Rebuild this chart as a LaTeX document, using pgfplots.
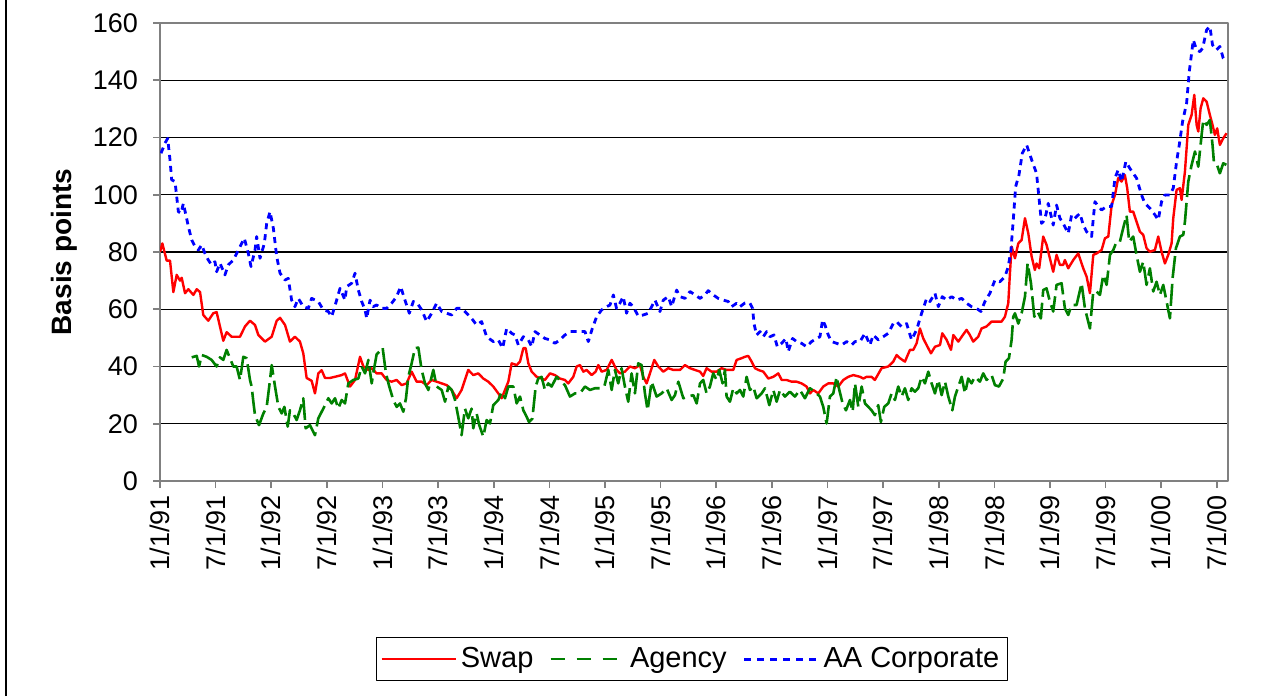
\documentclass[border=0pt]{standalone}
\usepackage{fontspec}
\setmainfont{Liberation Sans}
\usepackage{pgfplots}
\pgfplotsset{compat=1.18}
\definecolor{swapred}{RGB}{255,0,0}
\definecolor{agreen}{RGB}{0,128,0}
\definecolor{aablue}{RGB}{0,0,255}
\definecolor{framegray}{RGB}{128,128,128}
\begin{document}
\begin{tikzpicture}
\path[use as bounding box] (0,0) rectangle (641.5pt,348pt);
\fill[white] (0,0) rectangle (641.5pt,348pt);
\draw[black, line width=1pt] (3pt,0) -- (3pt,348pt);
\begin{axis}[
  at={(80pt,107.5pt)}, anchor=south west,
  scale only axis, width=534pt, height=229pt,
  xmin=1991, xmax=2000.6, ymin=0, ymax=160,
  ytick={0,20,40,60,80,100,120,140,160},
  xtick={1991,1991.5,1992,1992.5,1993,1993.5,1994,1994.5,1995,1995.5,1996,1996.5,1997,1997.5,1998,1998.5,1999,1999.5,2000,2000.5},
  xticklabels={1/1/91,7/1/91,1/1/92,7/1/92,1/1/93,7/1/93,1/1/94,7/1/94,1/1/95,7/1/95,1/1/96,7/1/96,1/1/97,7/1/97,1/1/98,7/1/98,1/1/99,7/1/99,1/1/00,7/1/00},
  tick align=outside, major tick length=3.5pt, tick pos=left,
  ymajorgrids, grid style={black, line width=0.6pt},
  axis line style={framegray, line width=1pt},
  every tick/.style={framegray, line width=0.8pt},
  font=\fontsize{13.5}{16}\selectfont,
  /pgf/number format/assume math mode=true,
  xticklabel style={rotate=90, anchor=east},
  yticklabel style={xshift=-4pt},
  ylabel={\bfseries Basis points},
  ylabel style={at={(axis description cs:-0.0706,0.5)}, anchor=south, font=\fontsize{14}{16}\selectfont},
  legend style={at={(axis description cs:0.498,-0.389)}, anchor=center, draw=black, line width=0.6pt,
    legend columns=-1, font=\fontsize{14.5}{17}\selectfont, inner xsep=2pt, inner ysep=3pt,
    /tikz/every even column/.append style={column sep=6pt}},
  legend image code/.code={\draw[#1] (0pt,0pt) -- (37pt,0pt);},
  line join=round,
]
\addplot[swapred, line width=1.2pt] coordinates {
(1991.000,80) (1991.021,83) (1991.060,77) (1991.090,77) (1991.120,66) (1991.150,72) (1991.180,70) (1991.195,71) (1991.225,65.6) (1991.255,67) (1991.300,65) (1991.330,67) (1991.360,66) (1991.389,58) (1991.434,56) (1991.479,58.6) (1991.509,59) (1991.539,54) (1991.569,49) (1991.599,52) (1991.644,50.4) (1991.719,50.4) (1991.764,54) (1991.809,56) (1991.854,54.5) (1991.884,51) (1991.944,48.7) (1992.004,50.4) (1992.049,56) (1992.079,57) (1992.124,54.5) (1992.168,48.7) (1992.213,50.4) (1992.258,48.7) (1992.288,44.6) (1992.318,36) (1992.363,35) (1992.393,30.6) (1992.423,37.6) (1992.453,38.7) (1992.483,36) (1992.528,36) (1992.573,36.4) (1992.633,37) (1992.663,37.6) (1992.708,33) (1992.753,35.3) (1992.798,43.4) (1992.828,40) (1992.873,38.8) (1992.903,39.4) (1992.947,37.6) (1992.992,37.6) (1993.037,35.3) (1993.082,34.7) (1993.127,35.3) (1993.172,33.5) (1993.217,34.1) (1993.262,38.2) (1993.307,34.7) (1993.352,34.7) (1993.397,33.5) (1993.442,35.3) (1993.487,34.7) (1993.532,34.1) (1993.577,33.5) (1993.622,31.8) (1993.666,28.9) (1993.711,31.8) (1993.771,38.8) (1993.816,37) (1993.861,37.6) (1993.906,35.8) (1993.951,34.7) (1993.996,33) (1994.041,30.6) (1994.071,28.9) (1994.101,31.8) (1994.131,34.7) (1994.161,41.1) (1994.206,40.5) (1994.236,41.7) (1994.266,46.4) (1994.287,46.4) (1994.311,41.1) (1994.341,38.2) (1994.386,36.4) (1994.430,35.8) (1994.460,35.3) (1994.505,37.6) (1994.550,37) (1994.595,35.8) (1994.640,35.3) (1994.670,34.1) (1994.715,36.4) (1994.745,40) (1994.775,40.5) (1994.805,38.2) (1994.835,38.8) (1994.880,37) (1994.916,38.2) (1994.940,40.5) (1994.970,38.2) (1995.015,38.8) (1995.060,42.3) (1995.104,38.8) (1995.134,37.6) (1995.179,38.2) (1995.224,40) (1995.269,39.4) (1995.314,40.5) (1995.344,36.4) (1995.374,34.1) (1995.404,37.6) (1995.443,42.3) (1995.479,40) (1995.524,38.2) (1995.569,39.4) (1995.614,38.8) (1995.674,38.8) (1995.719,40.5) (1995.764,39.4) (1995.809,38.8) (1995.854,38.2) (1995.883,36.7) (1995.913,39.4) (1995.958,38.2) (1996.003,38.2) (1996.048,39.4) (1996.093,38.8) (1996.153,38.8) (1996.183,42.3) (1996.228,42.9) (1996.258,43.4) (1996.288,43.7) (1996.318,41.7) (1996.348,39.4) (1996.378,38.8) (1996.423,38.2) (1996.468,35.8) (1996.513,36.4) (1996.558,37.6) (1996.588,35.3) (1996.632,35.3) (1996.677,34.7) (1996.722,34.7) (1996.767,34.1) (1996.812,33) (1996.842,30.6) (1996.872,31.8) (1996.917,30.6) (1996.962,33) (1997.007,34.1) (1997.052,34.1) (1997.097,33) (1997.142,35.3) (1997.187,36.4) (1997.232,37) (1997.292,36.4) (1997.322,35.8) (1997.352,36.4) (1997.396,36.4) (1997.426,35.3) (1997.486,39.4) (1997.546,40) (1997.591,41.7) (1997.621,44) (1997.651,42.9) (1997.696,41.7) (1997.741,45.8) (1997.771,45.8) (1997.801,48.1) (1997.831,53.3) (1997.861,49.8) (1997.891,47.5) (1997.930,44.6) (1997.966,46.9) (1998.011,47.5) (1998.032,51.6) (1998.071,49.3) (1998.110,45.8) (1998.131,51) (1998.176,48.7) (1998.206,50.4) (1998.250,52.8) (1998.280,51) (1998.310,48.7) (1998.355,50.4) (1998.385,53.3) (1998.430,54) (1998.475,55.7) (1998.520,55.7) (1998.565,55.7) (1998.595,57.4) (1998.625,62.1) (1998.640,72.6) (1998.655,81.9) (1998.685,77.8) (1998.715,83) (1998.745,84.2) (1998.775,91.8) (1998.805,86.5) (1998.835,78.4) (1998.864,73.7) (1998.879,76) (1998.903,74.3) (1998.939,85.4) (1998.969,82.5) (1998.999,77.8) (1999.029,73.1) (1999.059,79) (1999.089,75.5) (1999.119,75.5) (1999.134,77.2) (1999.164,74.3) (1999.209,77.2) (1999.254,79.5) (1999.299,74.3) (1999.329,71.4) (1999.359,65.6) (1999.389,79) (1999.419,79.5) (1999.464,80.7) (1999.494,84.8) (1999.524,85.4) (1999.554,96.4) (1999.584,99.9) (1999.613,105.8) (1999.643,104.6) (1999.673,106.9) (1999.694,102.3) (1999.718,94.1) (1999.748,94.1) (1999.778,90.6) (1999.808,87.1) (1999.838,86) (1999.868,81.3) (1999.898,80.1) (1999.943,80.7) (1999.973,85.4) (2000.003,80.1) (2000.033,76) (2000.063,79) (2000.093,83) (2000.108,91.8) (2000.138,101.7) (2000.168,102.3) (2000.183,98.2) (2000.213,108.1) (2000.243,124.4) (2000.273,127.9) (2000.297,134.9) (2000.318,124.4) (2000.333,122.1) (2000.354,130.2) (2000.378,133.7) (2000.408,132.5) (2000.437,127.9) (2000.461,124.4) (2000.482,120.9) (2000.503,123.2) (2000.527,117.4) (2000.557,119.7) (2000.587,121.5)
};
\addlegendentry{Swap}
\addplot[agreen, line width=1.3pt, dash pattern=on 11pt off 3pt, legend image post style={dash pattern=on 7pt off 6pt}] coordinates {
(1991.285,43.2) (1991.330,43.7) (1991.351,40) (1991.375,44) (1991.419,43.4) (1991.464,42.3) (1991.509,40) (1991.539,43.2) (1991.569,42.3) (1991.599,45.8) (1991.629,42.9) (1991.659,40) (1991.689,40) (1991.719,35.3) (1991.749,43.4) (1991.779,42.9) (1991.809,35.3) (1991.824,33) (1991.839,27.7) (1991.854,23) (1991.890,19.5) (1991.929,23.6) (1991.959,25.9) (1991.989,35.3) (1992.004,40.5) (1992.034,33) (1992.064,25.9) (1992.094,23.6) (1992.118,25.9) (1992.148,19) (1992.168,24.7) (1992.198,23.6) (1992.228,21.3) (1992.258,24.7) (1992.288,28.9) (1992.309,18.4) (1992.348,19.5) (1992.393,16) (1992.423,21.9) (1992.468,25.3) (1992.513,28.9) (1992.543,27.1) (1992.573,28.9) (1992.603,25.3) (1992.633,28.3) (1992.663,27.1) (1992.693,34.1) (1992.738,35.3) (1992.783,35.8) (1992.813,40) (1992.843,37.6) (1992.873,42.3) (1992.903,34.1) (1992.917,37.6) (1992.947,44.2) (1992.977,45.4) (1993.001,46.6) (1993.031,37.6) (1993.061,33) (1993.097,28.3) (1993.127,25.9) (1993.157,27.1) (1993.187,24.2) (1993.211,28.9) (1993.232,36.4) (1993.262,41.1) (1993.292,46.4) (1993.322,46.6) (1993.352,38.8) (1993.382,34.1) (1993.412,31.8) (1993.457,38.8) (1993.487,33) (1993.532,31.8) (1993.562,27.7) (1993.592,33) (1993.622,31.8) (1993.652,28.3) (1993.681,22.4) (1993.711,16) (1993.741,25.3) (1993.771,21.9) (1993.801,25.3) (1993.816,18.4) (1993.846,23.6) (1993.870,19.5) (1993.906,15.5) (1993.936,21.3) (1993.966,20.1) (1993.996,26.5) (1994.041,28.3) (1994.071,31.2) (1994.101,28.9) (1994.131,33) (1994.176,33) (1994.206,27.1) (1994.236,29.5) (1994.266,24.7) (1994.296,22.4) (1994.317,20.6) (1994.347,21.8) (1994.377,33) (1994.400,35.8) (1994.430,36.4) (1994.460,31.8) (1994.490,34.1) (1994.520,33) (1994.565,36.4) (1994.604,34.7) (1994.640,33.5) (1994.685,29.5) (1994.730,30.6) (1994.775,30.6) (1994.820,33) (1994.865,31.8) (1994.910,32.4) (1994.955,32.4) (1994.994,33) (1995.030,38.8) (1995.060,31.8) (1995.089,38.8) (1995.119,34.1) (1995.149,39.4) (1995.179,33) (1995.209,27.7) (1995.239,37.6) (1995.269,30.6) (1995.299,41.1) (1995.329,40.5) (1995.359,30.6) (1995.383,24.7) (1995.419,34.7) (1995.464,29.5) (1995.509,30.6) (1995.554,32.4) (1995.599,28.3) (1995.629,30) (1995.659,34.7) (1995.704,28.9) (1995.749,29.5) (1995.794,30) (1995.824,27.1) (1995.854,34.1) (1995.883,35.3) (1995.913,30.6) (1995.943,33) (1995.973,37.6) (1996.003,35.3) (1996.027,38.8) (1996.057,34.1) (1996.078,38.8) (1996.093,29.5) (1996.123,27.7) (1996.153,32.4) (1996.183,30.6) (1996.213,31.8) (1996.243,29.5) (1996.273,36.4) (1996.303,31.8) (1996.333,33) (1996.363,28.9) (1996.408,30.6) (1996.438,32.4) (1996.477,26.5) (1996.513,31.8) (1996.543,27.7) (1996.573,31.8) (1996.617,29.5) (1996.662,31.2) (1996.707,29.5) (1996.752,31.8) (1996.797,28.9) (1996.842,32.4) (1996.887,31.2) (1996.932,29.5) (1996.962,25.9) (1996.992,20.1) (1997.022,29.5) (1997.052,30.6) (1997.082,36.4) (1997.106,31.8) (1997.136,27.1) (1997.166,24.7) (1997.202,28.3) (1997.226,24.2) (1997.247,34.1) (1997.277,25.9) (1997.307,33) (1997.337,27.1) (1997.367,25.9) (1997.396,24.7) (1997.426,23) (1997.456,26.5) (1997.480,20.6) (1997.510,25.9) (1997.546,27.1) (1997.576,30.6) (1997.606,28.3) (1997.636,33) (1997.666,29.5) (1997.696,32.4) (1997.726,28.3) (1997.756,32.4) (1997.786,31.2) (1997.816,32.4) (1997.846,36.4) (1997.876,34.1) (1997.906,38.2) (1997.936,34.1) (1997.966,30.6) (1997.996,35.3) (1998.026,30) (1998.056,34.7) (1998.086,29.5) (1998.122,24.7) (1998.146,29.5) (1998.176,33) (1998.206,36.4) (1998.236,30.6) (1998.265,35.8) (1998.295,34.1) (1998.325,36.4) (1998.370,34.7) (1998.400,37.6) (1998.430,35.3) (1998.475,37) (1998.505,33.5) (1998.541,33) (1998.580,35.8) (1998.601,41.7) (1998.631,42.9) (1998.655,49.3) (1998.670,57.4) (1998.685,58.6) (1998.715,55) (1998.745,58.6) (1998.775,64.4) (1998.799,76.1) (1998.829,69.1) (1998.859,57.4) (1998.888,59.2) (1998.918,56.8) (1998.939,66.7) (1998.969,67.3) (1998.999,62.7) (1999.029,59.2) (1999.059,68.5) (1999.104,69.1) (1999.134,60.3) (1999.164,58) (1999.194,61.5) (1999.239,61.5) (1999.284,69.1) (1999.314,60.3) (1999.359,53.3) (1999.389,66.2) (1999.419,66.2) (1999.449,65) (1999.479,72) (1999.509,68.5) (1999.539,79) (1999.569,80.7) (1999.598,83.6) (1999.628,83.6) (1999.658,88.3) (1999.688,92.9) (1999.712,83.6) (1999.748,85.4) (1999.778,79) (1999.808,73.1) (1999.838,76.6) (1999.868,68.5) (1999.898,74.3) (1999.928,66.2) (1999.958,69.6) (1999.988,65) (2000.018,68.5) (2000.048,62.7) (2000.078,56.8) (2000.102,70.8) (2000.132,81.3) (2000.168,85.4) (2000.198,86) (2000.213,90.6) (2000.243,104.6) (2000.273,110.4) (2000.303,115.1) (2000.333,109.8) (2000.363,120.9) (2000.378,126.1) (2000.408,124.4) (2000.437,126.1) (2000.461,117.4) (2000.473,111.6) (2000.497,111) (2000.527,107.5) (2000.557,111) (2000.587,110.4)
};
\addlegendentry{Agency}
\addplot[aablue, line width=1.4pt, dash pattern=on 3pt off 2.5pt, legend image post style={dash pattern=on 3.5pt off 3pt}] coordinates {
(1991.009,114.5) (1991.045,118) (1991.069,119.7) (1991.090,112.2) (1991.105,105.2) (1991.135,104.6) (1991.150,99.4) (1991.165,94.1) (1991.189,93.5) (1991.210,97) (1991.255,88.9) (1991.285,84.2) (1991.315,81.9) (1991.345,80.7) (1991.375,82.5) (1991.404,79.5) (1991.434,77.2) (1991.464,75.5) (1991.494,76.6) (1991.509,73.1) (1991.539,76.1) (1991.584,72) (1991.614,75.5) (1991.659,77.2) (1991.704,80.7) (1991.758,84.8) (1991.794,79.5) (1991.818,74.9) (1991.854,80.7) (1991.869,85.4) (1991.899,77.8) (1991.938,83) (1991.959,90) (1991.989,94.1) (1992.019,88.3) (1992.049,78.4) (1992.079,72.6) (1992.124,70.2) (1992.153,70.8) (1992.183,63.2) (1992.213,60.9) (1992.243,63.8) (1992.288,60.9) (1992.333,60.3) (1992.363,63.8) (1992.423,62.7) (1992.468,59.8) (1992.513,59.2) (1992.543,57.4) (1992.588,63.2) (1992.618,67.3) (1992.663,63.2) (1992.678,67.9) (1992.723,69.1) (1992.753,72.6) (1992.783,66.7) (1992.813,62.7) (1992.843,59.8) (1992.858,56.8) (1992.888,63.2) (1992.917,60.9) (1992.947,61.5) (1992.992,60.3) (1993.037,60.3) (1993.082,62.1) (1993.127,64.4) (1993.163,67.9) (1993.202,63.2) (1993.241,58.6) (1993.277,62.7) (1993.313,62.1) (1993.352,59.8) (1993.397,55.7) (1993.442,58.6) (1993.487,62.1) (1993.532,59.2) (1993.577,58.6) (1993.622,58) (1993.666,60.3) (1993.711,60.3) (1993.756,58.6) (1993.801,56.8) (1993.846,54.5) (1993.891,55.7) (1993.936,50.4) (1993.996,48.7) (1994.041,49.3) (1994.080,46.4) (1994.116,53.3) (1994.161,51.6) (1994.191,51) (1994.221,47.5) (1994.266,50.4) (1994.311,49.3) (1994.341,46.9) (1994.371,52.2) (1994.415,51) (1994.460,49.8) (1994.505,49.3) (1994.550,48.1) (1994.595,49.3) (1994.640,51) (1994.685,52.2) (1994.730,52.2) (1994.775,52.2) (1994.820,52.2) (1994.850,48.7) (1994.886,53.3) (1994.925,57.4) (1994.970,59.8) (1995.015,60.9) (1995.045,61.5) (1995.075,65) (1995.104,60.3) (1995.134,62.1) (1995.164,64.4) (1995.194,58.6) (1995.224,62.1) (1995.254,60.9) (1995.299,57.6) (1995.344,58) (1995.389,58.6) (1995.419,60.9) (1995.449,63.2) (1995.494,59.2) (1995.524,63.2) (1995.569,64.4) (1995.599,60.9) (1995.644,66.7) (1995.674,64.4) (1995.719,63.8) (1995.764,66.2) (1995.809,65) (1995.854,63.8) (1995.898,65) (1995.928,66.5) (1995.973,65) (1996.018,63.8) (1996.063,63.2) (1996.108,62.7) (1996.138,60.9) (1996.183,62.1) (1996.213,60.9) (1996.258,62.2) (1996.303,62.1) (1996.327,60.3) (1996.339,55) (1996.363,51) (1996.393,52.2) (1996.423,50.4) (1996.453,52.2) (1996.483,50.4) (1996.519,51) (1996.549,46.9) (1996.588,48.1) (1996.626,49.8) (1996.647,45.2) (1996.686,49.8) (1996.722,48.7) (1996.767,48.1) (1996.812,46.9) (1996.857,48.7) (1996.902,49.8) (1996.932,50.4) (1996.956,56.3) (1996.977,54.5) (1997.007,51) (1997.037,48.7) (1997.082,48.1) (1997.127,47.5) (1997.172,48.7) (1997.217,47.5) (1997.247,48.7) (1997.292,48.7) (1997.337,51.6) (1997.381,47.5) (1997.411,51) (1997.456,49.3) (1997.501,50.4) (1997.546,51.6) (1997.591,55) (1997.621,55.7) (1997.666,53.9) (1997.711,55) (1997.756,49.3) (1997.801,52.8) (1997.846,58.6) (1997.891,63.8) (1997.921,62.7) (1997.966,65.6) (1997.996,60.9) (1998.032,64.4) (1998.071,63.2) (1998.116,64.4) (1998.161,63.2) (1998.206,63.8) (1998.250,62.1) (1998.295,60.9) (1998.340,60.3) (1998.379,59.2) (1998.415,62.7) (1998.460,65.6) (1998.505,70.2) (1998.550,69.6) (1998.595,71.4) (1998.625,74.9) (1998.649,80.7) (1998.670,91.2) (1998.691,102.8) (1998.721,106.9) (1998.751,114.5) (1998.790,117.4) (1998.835,112.2) (1998.879,107.5) (1998.900,99.4) (1998.924,90) (1998.939,90.6) (1998.963,93) (1998.984,97) (1999.029,89.4) (1999.059,96.4) (1999.089,91.8) (1999.119,90) (1999.164,86.5) (1999.194,92.9) (1999.224,91.8) (1999.269,93.5) (1999.299,89.4) (1999.329,87.1) (1999.374,85.4) (1999.404,97.6) (1999.434,95.9) (1999.464,94.7) (1999.509,95.9) (1999.554,95.9) (1999.584,105.8) (1999.613,108.7) (1999.643,104.6) (1999.682,111.6) (1999.718,109.2) (1999.748,107.5) (1999.778,105.8) (1999.823,99.9) (1999.853,97) (1999.898,95.3) (1999.943,93) (1999.973,91.2) (2000.003,97.6) (2000.033,99.9) (2000.078,99.9) (2000.108,102.3) (2000.138,111.6) (2000.162,117.4) (2000.192,125.6) (2000.228,132) (2000.252,143) (2000.288,154.1) (2000.318,150.6) (2000.348,150) (2000.372,151.2) (2000.408,157.6) (2000.437,158.8) (2000.461,152.3) (2000.497,150.6) (2000.527,151.8) (2000.557,147.7) (2000.587,146.5)
};
\addlegendentry{AA Corporate}
\end{axis}
\end{tikzpicture}
\end{document}
